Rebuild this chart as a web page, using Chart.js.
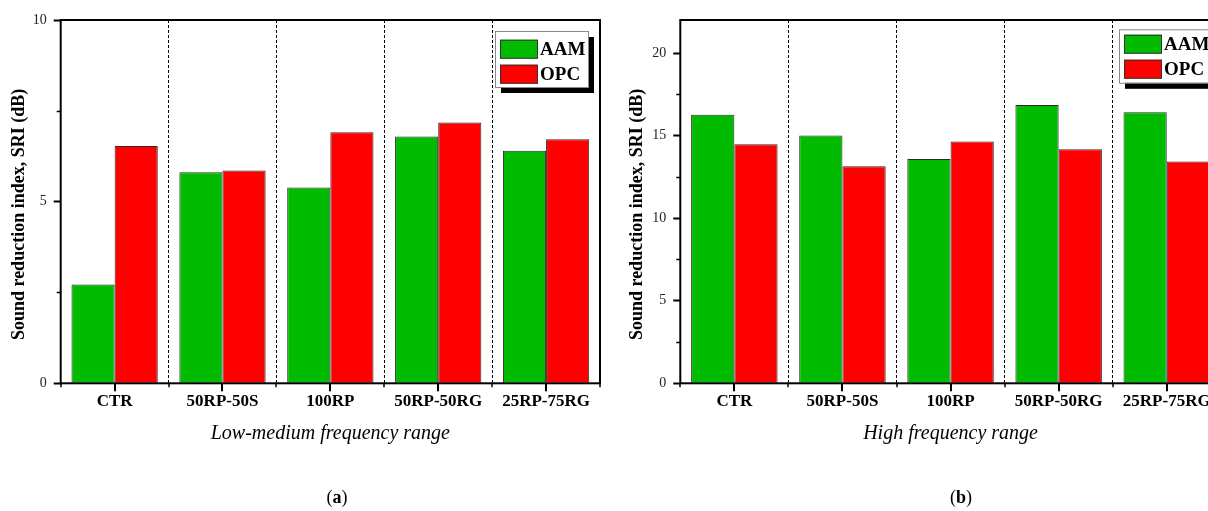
<!DOCTYPE html>
<html>
<head>
<meta charset="utf-8">
<title>Sound reduction index</title>
<script src="https://cdn.jsdelivr.net/npm/chart.js@4.4.1/dist/chart.umd.min.js"></script>
<style>
  html, body { margin: 0; padding: 0; background: #fff; width: 1208px; height: 511px; overflow: hidden; }
  canvas { position: absolute; top: 0; }
  #chartA { left: 0; }
  #chartB { left: 604px; }
  .cap { position: absolute; top: 487px; line-height: 22px; font: 18px "Liberation Serif", serif; color: #000; transform: translateX(-50%); white-space: nowrap; }
</style>
</head>
<body>
<canvas id="chartA" width="604" height="511"></canvas>
<canvas id="chartB" width="624" height="511"></canvas>
<div class="cap" style="left:337px">(<b>a</b>)</div>
<div class="cap" style="left:961px">(<b>b</b>)</div>
<script>
// Mixtures tested
const categories = ['CTR', '50RP-50S', '100RP', '50RP-50RG', '25RP-75RG'];
const seriesNames = ['AAM', 'OPC'];

// SRI (dB), low-medium frequency range
const lowMidAAM = [2.72, 5.81, 5.39, 6.79, 6.40];
const lowMidOPC = [6.53, 5.86, 6.91, 7.18, 6.72];

// SRI (dB), high frequency range
const highAAM = [16.26, 15.01, 13.59, 16.85, 16.42];
const highOPC = [14.48, 13.15, 14.64, 14.18, 13.43];

// Axis limits and labelled tick step
const lowMidMax = 10;
const highMax = 22;
const tickStep = 5;

const yTitle = 'Sound reduction index, SRI (dB)';
const lowMidTitle = 'Low-medium frequency range';
const highTitle = 'High frequency range';

const seriesColors = ['#00BB00', '#FF0000'];
const SERIF = '"Liberation Serif", "Times New Roman", serif';

// Frame, minor ticks, rotated y title and the shadowed legend box
const frameDecor = {
  id: 'frameDecor',
  afterDraw(chart, args, opts) {
    const { ctx, chartArea: a } = chart;
    const x = chart.scales.x, y = chart.scales.y;
    const line = (x1, y1, x2, y2) => { ctx.beginPath(); ctx.moveTo(x1, y1); ctx.lineTo(x2, y2); ctx.stroke(); };
    ctx.save();
    ctx.strokeStyle = '#000';

    // minor ticks halfway between labelled y ticks
    ctx.lineWidth = 1.5;
    const majors = y.ticks.map(t => t.value);
    for (let i = 0; i < majors.length - 1; i++) {
      const py = Math.round(y.getPixelForValue((majors[i] + majors[i + 1]) / 2)) + 0.5;
      line(a.left - 4, py, a.left, py);
    }

    // x ticks: long ones at category centres, short ones at boundaries
    const n = chart.data.labels.length;
    ctx.lineWidth = 2;
    for (let i = 0; i < n; i++) {
      const px = Math.round(x.getPixelForValue(i));
      line(px, a.bottom, px, a.bottom + 8);
    }
    ctx.lineWidth = 1.5;
    for (let i = 0; i <= n; i++) {
      const px = Math.round(x.getPixelForValue(i - 0.5));
      line(px, a.bottom, px, a.bottom + 4);
    }

    // closed frame around the plot
    ctx.lineWidth = 2;
    ctx.strokeRect(a.left, a.top, a.right - a.left, a.bottom - a.top);

    // y axis title
    ctx.save();
    ctx.translate(a.left + opts.titleDx, (a.top + a.bottom) / 2 + opts.titleDy);
    ctx.rotate(-Math.PI / 2);
    ctx.fillStyle = '#000';
    ctx.font = 'bold 18px ' + SERIF;
    ctx.textAlign = 'center';
    ctx.textBaseline = 'middle';
    ctx.fillText(opts.title, 0, 0);
    ctx.restore();

    // legend with drop shadow
    const L = opts.legend;
    const bx = a.left + L.dx, by = a.top + L.dy;
    ctx.fillStyle = '#000';
    ctx.fillRect(bx + 6, by + 6, L.w, L.h);
    ctx.fillStyle = '#fff';
    ctx.fillRect(bx, by, L.w, L.h);
    ctx.strokeStyle = '#8a8a8a';
    ctx.lineWidth = 1;
    ctx.strokeRect(bx + 0.5, by + 0.5, L.w, L.h);
    chart.data.datasets.forEach((ds, i) => {
      const sy = by + L.padTop + i * 25;
      ctx.fillStyle = ds.backgroundColor;
      ctx.fillRect(bx + 5, sy, 38, 19);
      ctx.strokeStyle = '#333';
      ctx.strokeRect(bx + 5.5, sy + 0.5, 37, 18);
      ctx.fillStyle = '#000';
      ctx.font = 'bold 19px ' + SERIF;
      ctx.textAlign = 'left';
      ctx.textBaseline = 'alphabetic';
      ctx.fillText(ds.label, bx + 45, sy + 15.6);
    });
    ctx.restore();
  }
};

function makeChart(canvasId, aam, opc, yMax, xTitle, geom) {
  return new Chart(document.getElementById(canvasId), {
    type: 'bar',
    data: {
      labels: categories,
      datasets: [
        { label: seriesNames[0], data: aam, backgroundColor: seriesColors[0], borderColor: '#2a2a2a', borderWidth: 1 },
        { label: seriesNames[1], data: opc, backgroundColor: seriesColors[1], borderColor: '#2a2a2a', borderWidth: 1 }
      ]
    },
    options: {
      responsive: false,
      animation: false,
      devicePixelRatio: 1,
      datasets: { bar: { barPercentage: 1.0, categoryPercentage: 0.8 } },
      layout: { padding: { top: 20, right: geom.padRight, left: 0, bottom: 0 } },
      plugins: {
        legend: { display: false },
        tooltip: { enabled: false },
        frameDecor: { title: yTitle, titleDx: geom.titleDx, titleDy: 12.8, legend: geom.legend }
      },
      scales: {
        x: {
          offset: true,
          grid: { display: true, offset: true, color: '#000', lineWidth: 1, drawTicks: false },
          border: { display: false, dash: [3, 2] },
          ticks: { color: '#000', padding: 8, font: { family: SERIF, size: 17, weight: 'bold' } },
          title: {
            display: true, text: xTitle, color: '#000',
            font: { family: SERIF, size: 20, style: 'italic' },
            padding: { top: 0, bottom: 65.7 }
          },
          afterFit(scale) { scale.height = 127.7; }
        },
        y: {
          min: 0,
          max: yMax,
          grid: { display: true, drawOnChartArea: false, drawTicks: true, tickLength: 7, tickWidth: 2, tickColor: '#000' },
          border: { display: false },
          ticks: { stepSize: tickStep, includeBounds: false, padding: 7, color: '#222', font: { family: SERIF, size: 14 } },
          afterFit(scale) { scale.width = geom.yWidth; }
        }
      }
    },
    plugins: [frameDecor]
  });
}

makeChart('chartA', lowMidAAM, lowMidOPC, lowMidMax, lowMidTitle, {
  yWidth: 60.7, padRight: 4, titleDx: -41.7,
  legend: { dx: 434.3, dy: 11, w: 93, h: 56, padTop: 8.7 }
});

makeChart('chartB', highAAM, highOPC, highMax, highTitle, {
  yWidth: 76.3, padRight: 7.2, titleDx: -43.3,
  legend: { dx: 438.7, dy: 9.3, w: 93, h: 53.5, padTop: 5.4 }
});
</script>
</body>
</html>
